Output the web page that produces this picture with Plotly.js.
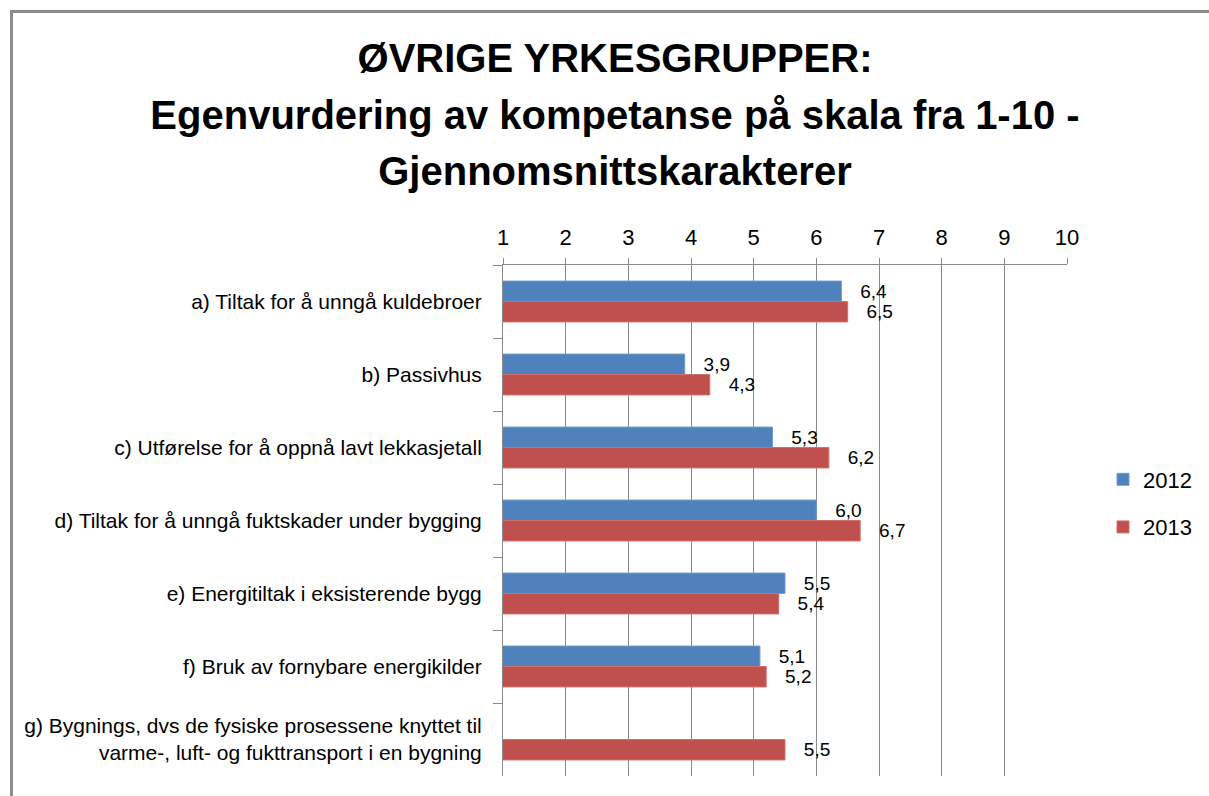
<!DOCTYPE html>
<html>
<head>
<meta charset="utf-8">
<script src="https://cdn.plot.ly/plotly-3.0.1.min.js"></script>
<style>
  html, body { margin: 0; padding: 0; background: #fff; overflow: hidden; }
  #chart { width: 1209px; height: 796px; position: relative; }
  #frame { position: absolute; left: 10px; top: 10px; width: 1250px; height: 850px;
           border-left: 3px solid #8c8c8c; border-top: 3px solid #8c8c8c; pointer-events: none; }
</style>
</head>
<body>
<div id="chart"></div>
<div id="frame"></div>
<script>
const categories = [
  "a) Tiltak for å unngå kuldebroer",
  "b) Passivhus",
  "c) Utførelse for å oppnå lavt lekkasjetall",
  "d) Tiltak for å unngå fuktskader under bygging",
  "e) Energitiltak i eksisterende bygg",
  "f) Bruk av fornybare energikilder",
  "g) Bygnings, dvs de fysiske prosessene knyttet til<br>varme-, luft- og fukttransport i en bygning"
];
const values2012 = [6.4, 3.9, 5.3, 6.0, 5.5, 5.1, null];
const values2013 = [6.5, 4.3, 6.2, 6.7, 5.4, 5.2, 5.5];
const seriesNames = ["2012", "2013"];
const xTicks = [1, 2, 3, 4, 5, 6, 7, 8, 9, 10];

const FONT = "Liberation Sans, Arial, sans-serif";

const common = {
  type: "bar",
  orientation: "h",
  y: categories,
  textposition: "outside",
  texttemplate: "\u00a0\u00a0\u00a0%{x:.1f}",
  textfont: { family: FONT, size: 19, color: "#000" },
  constraintext: "none",
  cliponaxis: false,
  hoverinfo: "x+y"
};

const data = [
  Object.assign({}, common, {
    name: seriesNames[0], x: values2012, legendgroup: "g1",
    marker: { color: "#4f81bd", line: { color: "#6f9bd1", width: 1 } }
  }),
  Object.assign({}, common, {
    name: seriesNames[1], x: values2013, legendgroup: "g2",
    marker: { color: "#c0504d", line: { color: "#d0706d", width: 1 } }
  })
];

const layout = {
  width: 1209, height: 796,
  paper_bgcolor: "#fff", plot_bgcolor: "#fff",
  separators: ", ",
  margin: { l: 503, r: 142, t: 265, b: 20, pad: 0 },
  barmode: "group",
  bargap: 0.44,
  bargroupgap: 0,
  title: {
    text: "<span style='font-size:40px'>ØVRIGE YRKESGRUPPER:</span><br><span style='font-size:40px'>Egenvurdering av kompetanse på skala fra 1-10 -</span><br><span style='font-size:40px'>Gjennomsnittskarakterer</span>",
    font: { family: FONT, size: 43.5, color: "#000", weight: "bold" },
    x: 615 / 1209, xref: "container", xanchor: "center",
    y: 1 - 72 / 796, yref: "container", yanchor: "top"
  },
  xaxis: {
    side: "top",
    range: [1, 10],
    tickvals: xTicks,
    ticktext: xTicks.map(String),
    showgrid: true, gridcolor: "#8a8a8a", gridwidth: 1,
    showline: true, linecolor: "#8a8a8a", linewidth: 1,
    ticks: "outside", ticklen: 6, tickcolor: "#8a8a8a",
    ticklabelstandoff: 4,
    tickfont: { family: FONT, size: 22, color: "#000" },
    zeroline: false, fixedrange: true
  },
  yaxis: {
    type: "category",
    autorange: "reversed",
    showgrid: false,
    showline: true, linecolor: "#8a8a8a", linewidth: 1,
    ticks: "outside", tickson: "boundaries", ticklen: 9, tickcolor: "#8a8a8a",
    ticklabelstandoff: 16,
    tickfont: { family: FONT, size: 21, color: "#000" },
    zeroline: false, fixedrange: true
  },
  showlegend: true,
  legend: {
    x: (1103 - 503) / 564, xanchor: "left",
    y: (776 - 503.5) / 511, yanchor: "middle",
    traceorder: "grouped",
    tracegroupgap: 16,
    font: { family: FONT, size: 22, color: "#000" },
    bgcolor: "rgba(0,0,0,0)"
  }
};

Plotly.newPlot("chart", data, layout, { displayModeBar: false, staticPlot: true });
</script>
</body>
</html>
